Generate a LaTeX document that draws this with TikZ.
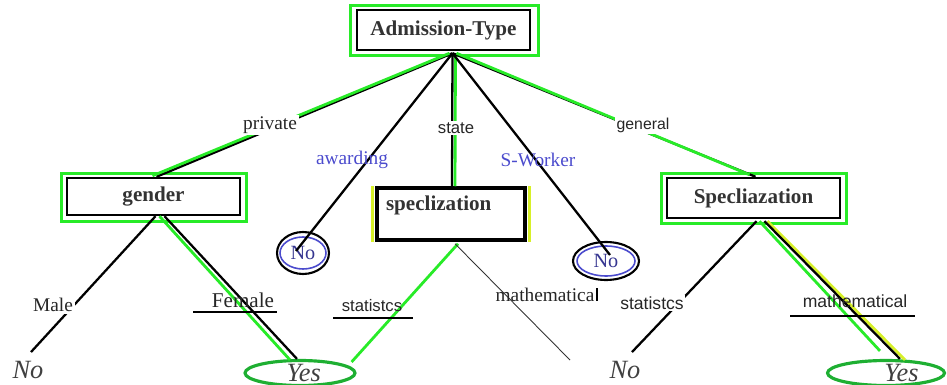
\documentclass[tikz,border=0pt]{standalone}
\usepackage{fontspec}
\setmainfont{Liberation Serif}
\setsansfont{Liberation Sans}
\usetikzlibrary{shapes.geometric,positioning}

\definecolor{lgreen}{RGB}{40,235,40}
\definecolor{dgreen}{RGB}{30,175,50}
\definecolor{lblue}{RGB}{75,75,205}
\definecolor{lyellow}{RGB}{215,240,40}

\begin{document}
\begin{tikzpicture}[x=0.02cm, y=-0.02cm,
    box/.style={draw, line width=1.4pt, fill=white, text=black!80,
                font=\bfseries\fontsize{12}{14}\selectfont},
    gframe/.style={draw=lgreen, line width=1.6pt},
    bline/.style={black, line width=1.3pt},
    gline/.style={lgreen, line width=1.6pt},
    yline/.style={lyellow, line width=1.6pt},
    noleaf/.style={ellipse, draw=lblue, line width=0.9pt, inner sep=0pt, fill=white,
                   text=lblue!70!black, font=\fontsize{11.5}{12}\selectfont},
    leaf/.style={text=black!75, font=\itshape\fontsize{15}{16}\selectfont},
    yesleaf/.style={leaf, ellipse, draw=dgreen, line width=1.8pt, inner sep=0pt,
                    minimum height=0.5cm},
    lbl/.style={fill=white, inner sep=1pt, text=black!85, font=\fontsize{11}{12}\selectfont},
    slbl/.style={lbl, font=\sffamily\fontsize{9.5}{11}\selectfont},
    blbl/.style={text=lblue, inner sep=1pt, font=\fontsize{11}{12}\selectfont}
  ]
    \useasboundingbox (0,0) rectangle (947,385);

    % Root
    \node[box, minimum width=3.46cm, minimum height=0.8cm] (adm) at (443.5,30) {Admission-Type};
    \draw[gframe] ([shift={(-5,-3)}]adm.north west) rectangle ([shift={(7,4)}]adm.south east);
    \coordinate (top) at ([shift={(9,2)}]adm.south);

    % Second level
    \node[box, minimum width=3.46cm, minimum height=0.74cm] (gender) at (153.5,196.5) {gender};
    \draw[gframe] ([shift={(-4,-3)}]gender.north west) rectangle ([shift={(5,5)}]gender.south east);

    \node[box, line width=2pt, minimum width=2.96cm, minimum height=1.04cm, text width=2.6cm,
          align=left, text depth=0.45cm] (spec) at (451,214) {speclization};
    \draw[yline] ([shift={(-3,0)}]spec.north west) -- ([shift={(-3,0)}]spec.south west);
    \draw[yline] ([shift={(3,0)}]spec.north east) -- ([shift={(3,0)}]spec.south east);

    \node[box, minimum width=3.46cm, minimum height=0.8cm] (spec2) at (753.5,198) {Specliazation};
    \draw[gframe] ([shift={(-4,-3)}]spec2.north west) rectangle ([shift={(5,4)}]spec2.south east);

    % No leaves in circles
    \node[noleaf, minimum width=0.92cm, minimum height=0.64cm] (noL) at (303,253) {No};
    \draw[line width=1.2pt] (noL.center) ellipse [x radius=0.52cm, y radius=0.42cm];
    \node[noleaf, minimum width=1.16cm, minimum height=0.6cm] (noR) at (606,261) {No};
    \draw[line width=1.2pt] (noR.center) ellipse [x radius=0.66cm, y radius=0.38cm];

    % Bottom leaves
    \node[leaf] (noLL) at (28,370) {No};
    \node[yesleaf, minimum width=2.2cm] (yesL) at (300,373) {\hspace*{0.15cm}Yes};
    \node[leaf] (noRR) at (625,370) {No};
    \node[yesleaf, minimum width=2.34cm] (yesR) at (886,373) {\hspace*{0.62cm}Yes};

    % Edges from root
    \draw[bline] (top) -- ([shift={(3,0)}]gender.north);
    \draw[gline] ([shift={(-3,0)}]top) -- ([shift={(-1,-1)}]gender.north);
    \draw[bline] (top) -- ([shift={(-7,-2)}]noL.center);
    \draw[bline] (top) -- ([shift={(1,0)}]spec.north);
    \draw[gline] ([shift={(3,0)}]top) -- ([shift={(4,0)}]spec.north);
    \draw[bline] (top) -- ([shift={(4,-6)}]noR.center);
    \draw[bline] (top) -- ([shift={(2,0)}]spec2.north);
    \draw[gline] ([shift={(4,0)}]top) -- ([shift={(-4,-2)}]spec2.north);

    % Edges from gender
    \draw[bline] ([shift={(2,0)}]gender.south) -- ([shift={(3,-3)}]noLL.north);
    \draw[gline] ([shift={(6,0)}]gender.south) -- ([shift={(-10,1)}]yesL.north);
    \draw[bline] ([shift={(11,0)}]gender.south) -- ([shift={(-3,0)}]yesL.north);

    % Edges from speclization
    \draw[gline] ([shift={(7,2)}]spec.south) -- ([shift={(-5,-11)}]yesL.east);
    \coordinate (mathend) at (570,360);
    \draw[black!80, line width=0.5pt] ([shift={(4,2)}]spec.south) -- (mathend);

    % Edges from Specliazation
    \draw[bline] ([shift={(3,2)}]spec2.south) -- ([shift={(7,-3)}]noRR.north);
    \draw[yline] ([shift={(14,2)}]spec2.south) -- ([shift={(19,1)}]yesR.north);
    \draw[bline] ([shift={(11,2)}]spec2.south) -- ([shift={(14,0)}]yesR.north);
    \draw[gline] ([shift={(6,2)}]spec2.south) -- ([shift={(-6,-8)}]yesR.north);

    % Branch labels
    \node[lbl] (lprivate) at (270,125) {private};
    \node[blbl] (lawarding) at (352,160) {awarding};
    \node[slbl] (lstate) at (456,128) {state};
    \node[blbl] (lsworker) at (538,160) {S-Worker};
    \node[slbl, font=\sffamily\fontsize{9}{10}\selectfont] (lgeneral) at (643,125) {general};
    \node[lbl] (lmale) at (53,305) {Male};
    \node[lbl, fill=none, font=\fontsize{12}{13}\selectfont] (lfemale) at (243,300) {Female};
    \draw[bline] ([shift={(-50,12)}]lfemale.center) -- ([shift={(34,12)}]lfemale.center);
    \node[slbl, fill=none] (lstat1) at (372,306) {statistcs};
    \draw[bline] ([shift={(-39,12)}]lstat1.center) -- ([shift={(41,12)}]lstat1.center);
    \node[lbl, fill=none] (lmath1) at (545,295) {mathematica};
    \draw[line width=1.1pt] ([shift={(52,-7)}]lmath1.center) -- ([shift={(52,6)}]lmath1.center);
    \node[slbl, font=\sffamily\fontsize{10}{11}\selectfont] (lstat2) at (652,303) {statistcs};
    \node[slbl, fill=none, font=\sffamily\fontsize{10}{11}\selectfont] (lmath2) at (855,301) {mathematical};
    \draw[bline] ([shift={(-65,15)}]lmath2.center) -- ([shift={(60,15)}]lmath2.center);
\end{tikzpicture}
\end{document}
